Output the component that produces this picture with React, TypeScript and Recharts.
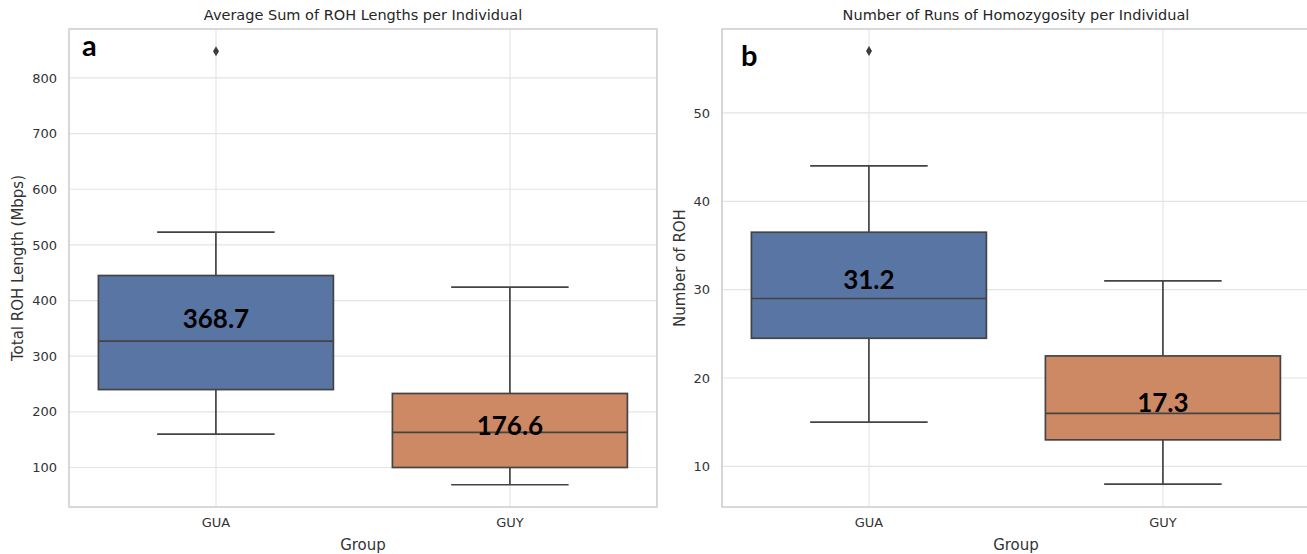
import React from "react";
import { ComposedChart, Bar, Scatter, XAxis, YAxis, CartesianGrid, ReferenceArea } from "recharts";

const groups = ["GUA", "GUY"];
const boxColors = ["#5875a4", "#cc8963"];

// panel a: total ROH length (Mbps)
const lenMin = [160, 69];
const lenQ1 = [240, 100];
const lenMedian = [327, 163];
const lenQ3 = [445, 233];
const lenMax = [523, 424];
const lenMean = [368.7, 176.6];
const lenOutlier = [848, null];
const lenTicks = [100, 200, 300, 400, 500, 600, 700, 800];

// panel b: number of ROH
const rohMin = [15, 8];
const rohQ1 = [24.5, 13];
const rohMedian = [29, 16];
const rohQ3 = [36.5, 22.5];
const rohMax = [44, 31];
const rohMean = [31.2, 17.3];
const rohOutlier = [57, null];
const rohTicks = [10, 20, 30, 40, 50];

const LINE = "#444444";
const FONT = "'DejaVu Sans', sans-serif";

function buildRows(min: number[], q1: number[], med: number[], q3: number[], max: number[], mean: number[], out: (number | null)[]) {
  return groups.map((g, i) => ({
    group: g,
    whisker: [min[i], max[i]],
    min: min[i],
    q1: q1[i],
    median: med[i],
    q3: q3[i],
    max: max[i],
    mean: mean[i],
    outlier: out[i],
    color: boxColors[i],
  }));
}

function BoxShape(props: any) {
  const { x = 0, y = 0, width = 0, height = 0, payload } = props;
  if (!payload) return null;
  const top = Math.min(y, y + height);
  const bottom = Math.max(y, y + height);
  const span = payload.max - payload.min;
  const pix = (v: number) => bottom - ((v - payload.min) / span) * (bottom - top);
  const cx = x + width / 2;
  const capHalf = width / 4;
  const yQ1 = pix(payload.q1);
  const yQ3 = pix(payload.q3);
  const yMed = pix(payload.median);
  return (
    <g>
      <line x1={cx} x2={cx} y1={pix(payload.max)} y2={yQ3} stroke={LINE} strokeWidth={1.7} />
      <line x1={cx} x2={cx} y1={yQ1} y2={pix(payload.min)} stroke={LINE} strokeWidth={1.7} />
      <line x1={cx - capHalf} x2={cx + capHalf} y1={pix(payload.max)} y2={pix(payload.max)} stroke={LINE} strokeWidth={1.7} />
      <line x1={cx - capHalf} x2={cx + capHalf} y1={pix(payload.min)} y2={pix(payload.min)} stroke={LINE} strokeWidth={1.7} />
      <rect x={x} y={yQ3} width={width} height={yQ1 - yQ3} fill={payload.color} stroke={LINE} strokeWidth={1.7} />
      <line x1={x} x2={x + width} y1={yMed} y2={yMed} stroke={LINE} strokeWidth={1.7} />
      <text
        x={cx}
        y={pix(payload.mean)}
        textAnchor="middle"
        dominantBaseline="central"
        fontFamily="Lato, sans-serif"
        fontWeight={700}
        fontSize={26}
        fill="#000"
      >
        {payload.mean.toFixed(1)}
      </text>
    </g>
  );
}

function Diamond(props: any) {
  const { cx, cy } = props;
  if (cx == null || cy == null || props.payload?.outlier == null) return null;
  return <path d={`M${cx},${cy - 5} L${cx + 3},${cy} L${cx},${cy + 5} L${cx - 3},${cy} Z`} fill="#3d3d3d" />;
}

function BoxPanel(props: {
  rows: any[];
  domain: [number, number];
  ticks: number[];
  yLabel: string;
  yLabelOffset: number;
  yAxisWidth: number;
  rightMargin: number;
}) {
  const { rows, domain, ticks, yLabel, yLabelOffset, yAxisWidth, rightMargin } = props;
  return (
    <ComposedChart
      width={660}
      height={554}
      data={rows}
      margin={{ top: 29, right: rightMargin, bottom: 0, left: 0 }}
      barCategoryGap="10%"
    >
      <CartesianGrid stroke="#e4e4e4" strokeWidth={1.2} />
      <XAxis
        dataKey="group"
        type="category"
        height={47}
        tickLine={false}
        axisLine={false}
        tickSize={0}
        tickMargin={11}
        tick={{ fill: "#333", fontSize: 13, fontFamily: FONT }}
        label={{
          content: ({ viewBox }: any) => (
            <text x={viewBox.x + viewBox.width / 2} y={viewBox.y + 43} textAnchor="middle" fontSize={15} fontFamily={FONT} fill="#333">
              Group
            </text>
          ),
        }}
      />
      <YAxis
        type="number"
        domain={domain}
        ticks={ticks}
        width={yAxisWidth}
        tickLine={false}
        axisLine={false}
        tickSize={0}
        tickMargin={12}
        allowDataOverflow
        tick={{ fill: "#333", fontSize: 13, fontFamily: FONT }}
        label={{
          content: ({ viewBox }: any) => {
            const lx = viewBox.x + yLabelOffset;
            const ly = viewBox.y + viewBox.height / 2;
            return (
              <text
                x={lx}
                y={ly}
                transform={`rotate(-90 ${lx} ${ly})`}
                textAnchor="middle"
                dominantBaseline="central"
                fontSize={15}
                fontFamily={FONT}
                fill="#333"
              >
                {yLabel}
              </text>
            );
          },
        }}
      />
      <ReferenceArea y1={domain[0]} y2={domain[1]} fill="none" stroke="#d0d0d0" strokeWidth={1.5} ifOverflow="visible" />
      <Bar dataKey="whisker" shape={<BoxShape />} isAnimationActive={false} />
      <Scatter dataKey="outlier" shape={<Diamond />} isAnimationActive={false} />
    </ComposedChart>
  );
}

const titleStyle: React.CSSProperties = {
  position: "absolute",
  top: 7,
  textAlign: "center",
  fontFamily: FONT,
  fontSize: 14.5,
  color: "#262626",
  lineHeight: "17px",
};

const letterStyle: React.CSSProperties = {
  position: "absolute",
  fontFamily: "Lato, sans-serif",
  fontWeight: 700,
  fontSize: 29,
  color: "#000",
  lineHeight: "30px",
};

export default function App() {
  const lenRows = buildRows(lenMin, lenQ1, lenMedian, lenQ3, lenMax, lenMean, lenOutlier);
  const rohRows = buildRows(rohMin, rohQ1, rohMedian, rohQ3, rohMax, rohMean, rohOutlier);
  return (
    <div style={{ position: "absolute", left: 0, top: 0, width: 1307, height: 554, overflow: "hidden", background: "#fff" }}>
      <div style={{ position: "absolute", left: 0, top: 0 }}>
        <BoxPanel
          rows={lenRows}
          domain={[29, 888]}
          ticks={lenTicks}
          yLabel="Total ROH Length (Mbps)"
          yLabelOffset={18}
          yAxisWidth={69}
          rightMargin={3}
        />
      </div>
      <div style={{ position: "absolute", left: 660, top: 0 }}>
        <BoxPanel
          rows={rohRows}
          domain={[5.4, 59.5]}
          ticks={rohTicks}
          yLabel="Number of ROH"
          yLabelOffset={20}
          yAxisWidth={62}
          rightMargin={10}
        />
      </div>
      <div style={{ ...titleStyle, left: 69, width: 588 }}>Average Sum of ROH Lengths per Individual</div>
      <div style={{ ...titleStyle, left: 722, width: 588 }}>Number of Runs of Homozygosity per Individual</div>
      <div style={{ ...letterStyle, left: 82, top: 30 }}>a</div>
      <div style={{ ...letterStyle, left: 741, top: 40 }}>b</div>
    </div>
  );
}
